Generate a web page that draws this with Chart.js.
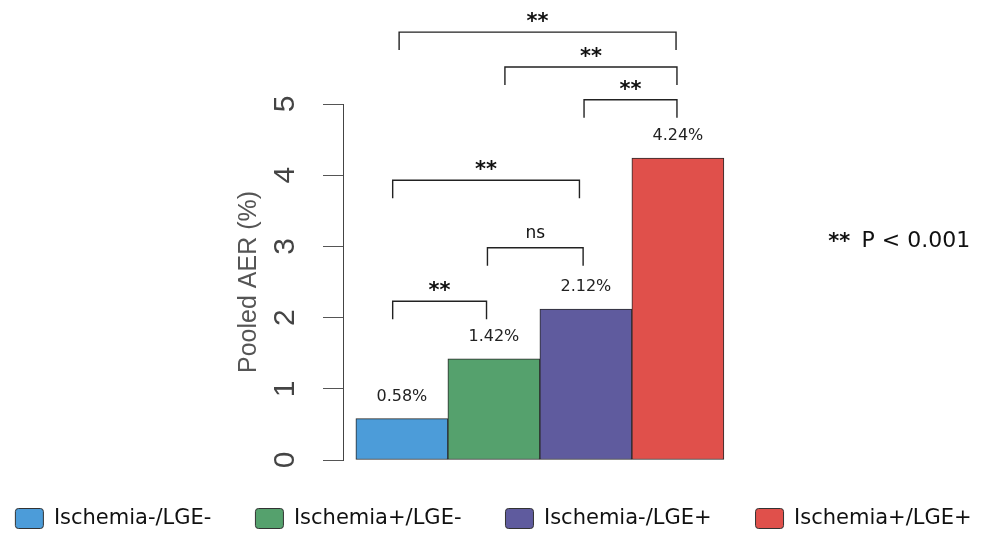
<!DOCTYPE html>
<html>
<head>
<meta charset="utf-8">
<script src="https://cdn.jsdelivr.net/npm/chart.js@4.4.1/dist/chart.umd.min.js"></script>
<style>
  html, body { margin: 0; padding: 0; background: #fff; }
  #wrap { width: 987px; height: 536px; position: relative; }
</style>
</head>
<body>
<div id="wrap"><canvas id="myChart"></canvas></div>
<script>
const categories = ['Ischemia-/LGE-', 'Ischemia+/LGE-', 'Ischemia-/LGE+', 'Ischemia+/LGE+'];
const aerValues = [0.58, 1.42, 2.12, 4.24];
const valueLabels = ['0.58%', '1.42%', '2.12%', '4.24%'];
const yTicks = [0, 1, 2, 3, 4, 5];

// significance brackets: span in bar index units, height in AER units
const bracketFrom = [-0.10, 0.93, -0.10, 1.98, 1.12, -0.03];
const bracketTo = [0.92, 1.97, 1.93, 2.99, 2.99, 2.98];
const bracketLevel = [2.23, 2.98, 3.93, 5.06, 5.52, 6.01];
const bracketText = ['**', 'ns', '**', '**', '**', '**'];

const barColors = ['#4c9cd9', '#55a16d', '#5f5b9e', '#e0504b'];

// draw centred on the ink, not the em box
function inkText(ctx, s, cx, cy) {
    const m = ctx.measureText(s);
    ctx.fillText(s, cx, cy + (m.actualBoundingBoxAscent - m.actualBoundingBoxDescent) / 2);
}

const annotations = {
    id: 'annotations',
    afterDatasetsDraw(chart) {
        const {ctx, scales: {x, y}} = chart;
        ctx.save();
        ctx.textAlign = 'center';
        ctx.textBaseline = 'alphabetic';

        // value labels above bars
        ctx.fillStyle = '#222';
        ctx.font = '16px "DejaVu Sans"';
        aerValues.forEach((v, i) => {
            inkText(ctx, valueLabels[i], x.getPixelForValue(i), y.getPixelForValue(v) - 24);
        });

        // brackets
        ctx.strokeStyle = '#222';
        ctx.lineWidth = 1.4;
        bracketLevel.forEach((lv, i) => {
            const x1 = x.getPixelForValue(bracketFrom[i]);
            const x2 = x.getPixelForValue(bracketTo[i]);
            const yy = y.getPixelForValue(lv);
            ctx.beginPath();
            ctx.moveTo(x1, yy + 18);
            ctx.lineTo(x1, yy);
            ctx.lineTo(x2, yy);
            ctx.lineTo(x2, yy + 18);
            ctx.stroke();
            ctx.fillStyle = '#111';
            ctx.font = bracketText[i] === 'ns' ? '17px "DejaVu Sans"' : 'bold 21px "DejaVu Sans"';
            inkText(ctx, bracketText[i], (x1 + x2) / 2, yy - 15);
        });

        // p-value note
        const px = x.getPixelForValue(4.635);
        const py = y.getPixelForValue(3.1);
        ctx.textAlign = 'left';
        ctx.font = 'bold 21px "DejaVu Sans"';
        inkText(ctx, '**', px, py - 2);
        const w = ctx.measureText('** ').width;
        ctx.font = '22px "DejaVu Sans"';
        const m = ctx.measureText('P < 0.001');
        ctx.fillText('P < 0.001', px + w + 4, py + m.actualBoundingBoxAscent / 2);
        ctx.restore();
    }
};

const config = {
    type: 'bar',
    data: {
        datasets: [{
            label: 'Pooled AER',
            data: aerValues.map((v, i) => ({x: i, y: v})),
            backgroundColor: barColors,
            borderColor: '#2a2a2a',
            borderWidth: 1,
            borderSkipped: false,
            barPercentage: 1,
            categoryPercentage: 1
        }]
    },
    options: {
        responsive: true,
        maintainAspectRatio: false,
        animation: false,
        layout: {
            padding: {left: -30, right: -30, top: 104, bottom: -3}
        },
        scales: {
            x: {
                type: 'linear',
                offset: false,
                min: -0.64,
                max: 6.36,
                afterBuildTicks: s => { s.ticks = categories.map((c, i) => ({value: i})); },
                grid: {display: false},
                border: {display: false},
                ticks: {display: false},
                afterFit: s => { s.height = 4; }
            },
            y: {
                min: 0,
                max: 5,
                afterBuildTicks: s => { s.ticks = yTicks.map(v => ({value: v})); },
                afterFit: s => { s.width = 373; },
                grid: {
                    display: true,
                    drawOnChartArea: false,
                    drawTicks: true,
                    tickLength: 20,
                    color: '#555',
                    lineWidth: 1
                },
                border: {display: true, color: '#444', width: 1},
                ticks: {
                    minRotation: 90,
                    maxRotation: 90,
                    crossAlign: 'center',
                    padding: 29,
                    color: '#444',
                    font: {family: '"Liberation Sans"', size: 30}
                },
                title: {
                    display: true,
                    text: 'Pooled AER (%)',
                    color: '#555',
                    padding: {top: 264, bottom: 0},
                    font: {family: '"Liberation Sans"', size: 25}
                }
            }
        },
        plugins: {
            tooltip: {enabled: false},
            legend: {
                position: 'bottom',
                labels: {
                    boxWidth: 28,
                    boxHeight: 20,
                    padding: 44,
                    color: '#111',
                    useBorderRadius: true,
                    font: {family: '"DejaVu Sans"', size: 21},
                    generateLabels: () => categories.map((c, i) => ({
                        text: c,
                        fillStyle: barColors[i],
                        strokeStyle: '#333',
                        lineWidth: 1,
                        borderRadius: 3,
                        fontColor: '#111',
                        hidden: false,
                        index: i
                    }))
                }
            }
        }
    },
    plugins: [annotations]
};

const myChart = new Chart(document.getElementById('myChart'), config);
</script>
</body>
</html>
